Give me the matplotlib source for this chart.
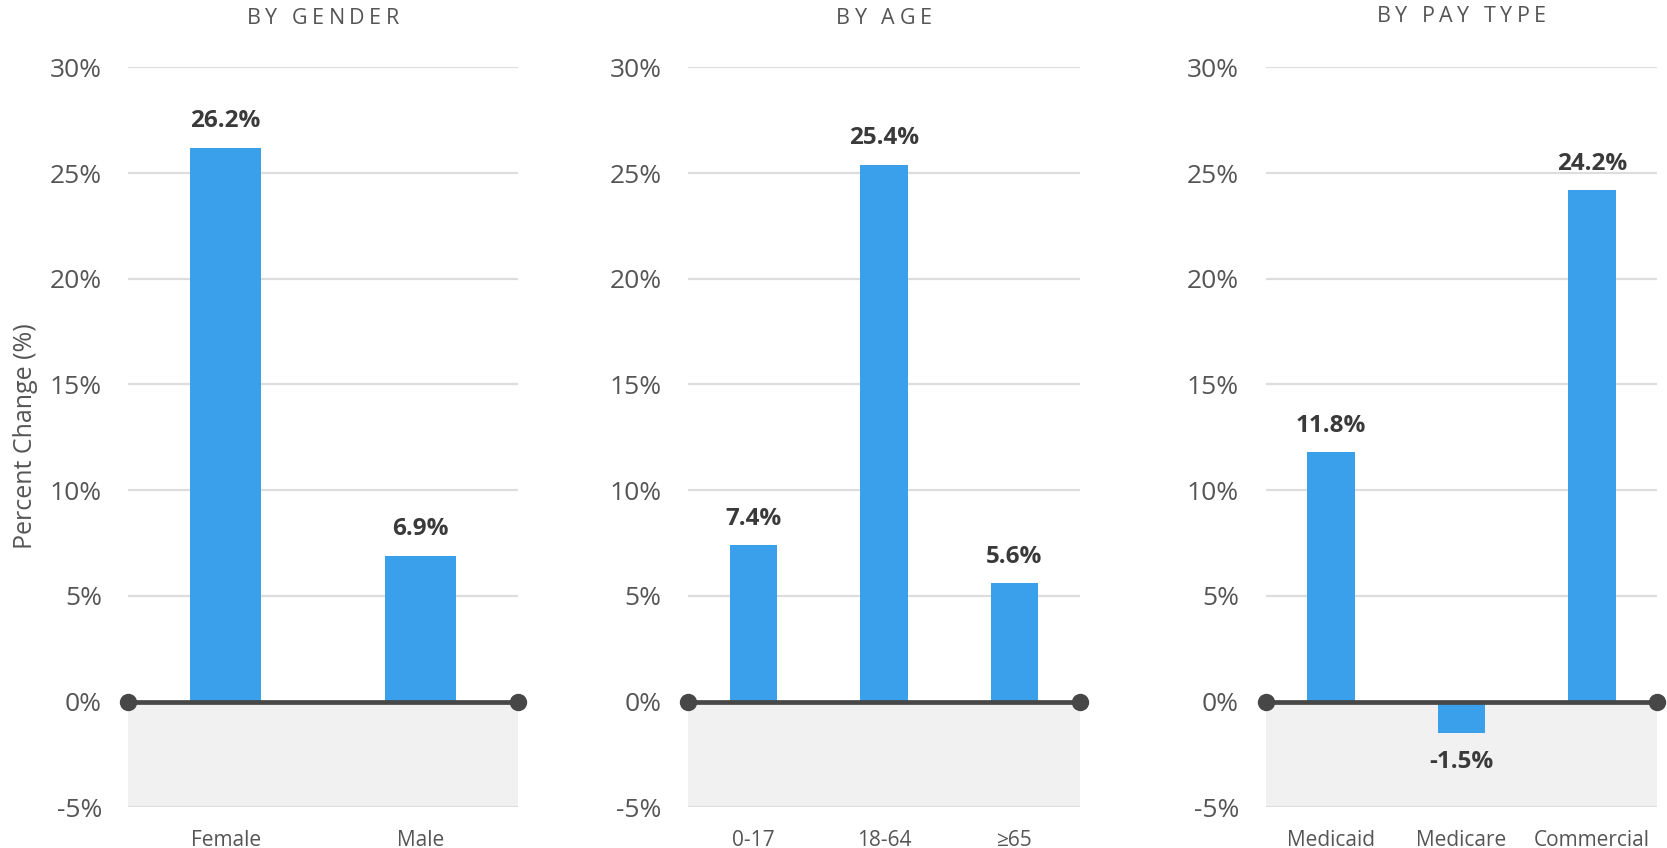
import matplotlib
matplotlib.use("Agg")
import matplotlib.pyplot as plt
from matplotlib.font_manager import FontProperties

FAM = ['Open Sans', 'DejaVu Sans']
plt.rcParams['font.family'] = FAM

titles = ["BY GENDER", "BY AGE", "BY PAY TYPE"]
gender_cats = ["Female", "Male"]
gender_vals = [26.2, 6.9]
age_cats = ["0-17", "18-64", "≥65"]
age_vals = [7.4, 25.4, 5.6]
pay_cats = ["Medicaid", "Medicare", "Commercial"]
pay_vals = [11.8, -1.5, 24.2]
yticks = [-5, 0, 5, 10, 15, 20, 25, 30]
ylabel = "Percent Change (%)"

panels = [(gender_cats, gender_vals), (age_cats, age_vals), (pay_cats, pay_vals)]

W, H = 1667, 848
fig = plt.figure(figsize=(W / 100, H / 100), dpi=100)
renderer = fig.canvas.get_renderer()

BLUE = "#3BA0EC"
DARK = "#474747"
GRID = "#DDDDDD"
FILL = "#F1F1F1"
TXT = "#555555"
VAL = "#3A3A3A"

xpix = [(128.3, 517.7), (688.0, 1079.7), (1265.5, 1657.3)]
title_y = [18.8, 18.8, 16.2]
ytop, ybot = 67.3, 807.3


def tracked_text(xc, yc, s, size, tracking, color):
    prop = FontProperties(family=FAM, size=size)
    space_w = renderer.get_text_width_height_descent("n", prop, ismath=False)[0] * 0.45
    widths = []
    for c in s:
        if c == " ":
            widths.append(space_w)
        else:
            widths.append(renderer.get_text_width_height_descent(c, prop, ismath=False)[0])
    total = sum(widths) + tracking * (len(s) - 1)
    x = xc - total / 2
    for c, w in zip(s, widths):
        if c != " ":
            fig.text(x / W, 1 - yc / H, c, ha='left', va='center', fontproperties=prop,
                     color=color)
        x += w + tracking


for i, ((cats, vals), title) in enumerate(zip(panels, titles)):
    x0, x1 = xpix[i]
    ax = fig.add_axes([x0 / W, 1 - ybot / H, (x1 - x0) / W, (ybot - ytop) / H])
    n = len(cats)
    ax.set_xlim(-0.5, n - 0.5)
    ax.set_ylim(-5, 30)
    ax.axhspan(-5, 0, color=FILL, zorder=0, lw=0)
    for t in yticks:
        if t != 0:
            ax.axhline(t, color=GRID, lw=1.6, zorder=1)
    xs = list(range(n))
    ax.bar(xs, vals, width=0.363, color=BLUE, zorder=2)
    ax.plot([-0.5, n - 0.5], [0, 0], color=DARK, lw=3.4, marker='o',
            markersize=11.5, markevery=[0, 1], zorder=4, clip_on=False,
            solid_capstyle='butt')
    for x, v in zip(xs, vals):
        off = 19 if v >= 0 else -21
        ax.annotate(f"{v:.1f}%", (x, v), xytext=(0, off), textcoords='offset points',
                    ha='center', va='center', fontsize=17.5, fontweight='bold', color=VAL)
    for s in ax.spines.values():
        s.set_visible(False)
    ax.set_yticks(yticks)
    ax.set_yticklabels([f"{t}%" for t in yticks])
    for lab in ax.get_yticklabels():
        lab.set_verticalalignment('center_baseline')
    ax.set_xticks(xs)
    ax.set_xticklabels(cats)
    ax.tick_params(axis='y', length=0, pad=19, labelsize=19, labelcolor=TXT)
    ax.tick_params(axis='x', length=0, pad=16, labelsize=15, labelcolor=TXT)
    tracked_text((x0 + x1) / 2, title_y[i], title, 15.5, 4.4, TXT)
    if i == 0:
        fig.text(25 / W, 1 - 436 / H, ylabel, rotation=90, ha='center', va='center',
                 fontsize=18, color=TXT)

fig.savefig("out.png", dpi=100)
